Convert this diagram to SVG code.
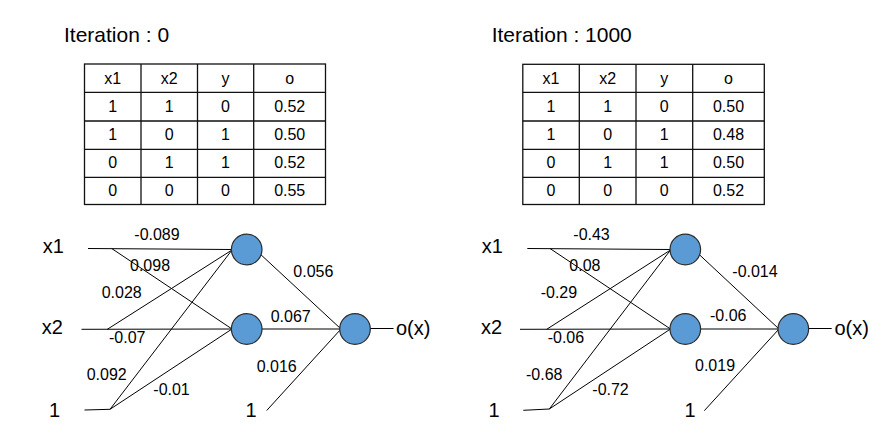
<svg xmlns="http://www.w3.org/2000/svg" width="894" height="439" viewBox="0 0 894 439">
<style>
text{font-family:"Liberation Sans",Arial,sans-serif;fill:#000}
.title{font-size:21px}
.cell{font-size:16px;text-anchor:middle}
.lbl{font-size:20px}
.w{font-size:16px}
.grid{fill:none;stroke:#111;stroke-width:1.3}
.edge{stroke:#000;stroke-width:1;fill:none}
.neuron{fill:#5B9BD5;stroke:#2b2b2b;stroke-width:1.2}
</style>
<rect width="894" height="439" fill="#fff"/>

<!-- Left panel -->
<g id="title-left"><text class="title" x="64" y="41.5">Iteration : 0</text></g>
<g id="table-left">
<rect class="grid" x="84.5" y="64" width="241" height="140.5"/>
<path class="grid" d="M141 64V204.5M197.5 64V204.5M253.7 64V204.5M84.5 92.3H325.5M84.5 121H325.5M84.5 149.3H325.5M84.5 177.3H325.5"/>
<text class="cell" x="112.7" y="84">x1</text><text class="cell" x="169.2" y="84">x2</text><text class="cell" x="225.5" y="84">y</text><text class="cell" x="289.7" y="84">o</text>
<text class="cell" x="112.7" y="111.7">1</text><text class="cell" x="169.2" y="111.7">1</text><text class="cell" x="225.5" y="111.7">0</text><text class="cell" x="289.7" y="111.7">0.52</text>
<text class="cell" x="112.7" y="140">1</text><text class="cell" x="169.2" y="140">0</text><text class="cell" x="225.5" y="140">1</text><text class="cell" x="289.7" y="140">0.50</text>
<text class="cell" x="112.7" y="168.3">0</text><text class="cell" x="169.2" y="168.3">1</text><text class="cell" x="225.5" y="168.3">1</text><text class="cell" x="289.7" y="168.3">0.52</text>
<text class="cell" x="112.7" y="196">0</text><text class="cell" x="169.2" y="196">0</text><text class="cell" x="225.5" y="196">0</text><text class="cell" x="289.7" y="196">0.55</text>
</g>

<g id="connectors-left">
<line class="edge" x1="88" y1="248.5" x2="232" y2="249.5"/>
<line class="edge" x1="111.7" y1="248.5" x2="232" y2="329"/>
<line class="edge" x1="81.5" y1="329.3" x2="232" y2="329"/>
<line class="edge" x1="107.3" y1="329.3" x2="232" y2="250"/>
<line class="edge" x1="84.5" y1="410" x2="110" y2="409.3"/>
<line class="edge" x1="110" y1="409.3" x2="232" y2="250"/>
<line class="edge" x1="110" y1="409.3" x2="232" y2="329"/>
<line class="edge" x1="258" y1="252" x2="341" y2="329"/>
<line class="edge" x1="262" y1="329" x2="341" y2="329"/>
<line class="edge" x1="266.7" y1="410.5" x2="341" y2="329"/>
<line class="edge" x1="369" y1="328.5" x2="393.5" y2="328.5"/>
<text class="w" x="134.3" y="240">-0.089</text>
<text class="w" x="130" y="271">0.098</text>
<text class="w" x="101.7" y="298.3">0.028</text>
<text class="w" x="109" y="343.3">-0.07</text>
<text class="w" x="86.7" y="380">0.092</text>
<text class="w" x="153.3" y="395">-0.01</text>
<text class="w" x="293.3" y="277.3">0.056</text>
<text class="w" x="270.7" y="321.7">0.067</text>
<text class="w" x="256.7" y="371.7">0.016</text>
</g>
<g id="in-x1-left"><text class="lbl" x="42.7" y="253.3">x1</text></g>
<g id="in-x2-left"><text class="lbl" x="41.7" y="333.5">x2</text></g>
<g id="in-bias-left"><text class="lbl" x="49" y="416.7">1</text></g>
<g id="h1-left"><circle class="neuron" cx="246.7" cy="249.5" r="15.3"/></g>
<g id="h2-left"><circle class="neuron" cx="246.7" cy="329" r="15.3"/></g>
<g id="out-left"><circle class="neuron" cx="355" cy="329" r="15.3"/></g>
<g id="out-bias-left"><text class="lbl" x="245.5" y="416.7">1</text></g>
<g id="ox-left"><text class="lbl" x="396" y="335">o(x)</text></g>

<!-- Right panel -->
<g id="title-right"><text class="title" x="491.7" y="41.5">Iteration : 1000</text></g>
<g id="table-right">
<rect class="grid" x="522.8" y="64.3" width="241.5" height="140.2"/>
<path class="grid" d="M579.3 64.3V204.5M636 64.3V204.5M692.7 64.3V204.5M522.8 92.3H764.3M522.8 121H764.3M522.8 149.3H764.3M522.8 177.3H764.3"/>
<text class="cell" x="551" y="84">x1</text><text class="cell" x="607.7" y="84">x2</text><text class="cell" x="664.3" y="84">y</text><text class="cell" x="728.5" y="84">o</text>
<text class="cell" x="551" y="111.7">1</text><text class="cell" x="607.7" y="111.7">1</text><text class="cell" x="664.3" y="111.7">0</text><text class="cell" x="728.5" y="111.7">0.50</text>
<text class="cell" x="551" y="140">1</text><text class="cell" x="607.7" y="140">0</text><text class="cell" x="664.3" y="140">1</text><text class="cell" x="728.5" y="140">0.48</text>
<text class="cell" x="551" y="168.3">0</text><text class="cell" x="607.7" y="168.3">1</text><text class="cell" x="664.3" y="168.3">1</text><text class="cell" x="728.5" y="168.3">0.50</text>
<text class="cell" x="551" y="196">0</text><text class="cell" x="607.7" y="196">0</text><text class="cell" x="664.3" y="196">0</text><text class="cell" x="728.5" y="196">0.52</text>
</g>

<g id="connectors-right">
<line class="edge" x1="527.3" y1="248.5" x2="670.5" y2="249.5"/>
<line class="edge" x1="550" y1="248.5" x2="670.5" y2="329"/>
<line class="edge" x1="520" y1="329.3" x2="670.5" y2="329"/>
<line class="edge" x1="546.7" y1="329.3" x2="670.5" y2="250"/>
<line class="edge" x1="523.3" y1="410.3" x2="549.3" y2="409"/>
<line class="edge" x1="549.3" y1="409" x2="670.5" y2="250"/>
<line class="edge" x1="549.3" y1="409" x2="670.5" y2="329"/>
<line class="edge" x1="696.5" y1="252" x2="779" y2="329"/>
<line class="edge" x1="700" y1="329" x2="779" y2="329"/>
<line class="edge" x1="704.3" y1="410.7" x2="779" y2="329"/>
<line class="edge" x1="807.5" y1="328.5" x2="831.7" y2="328.5"/>
<text class="w" x="573.3" y="240">-0.43</text>
<text class="w" x="569.3" y="271">0.08</text>
<text class="w" x="540.7" y="298">-0.29</text>
<text class="w" x="547.7" y="343.3">-0.06</text>
<text class="w" x="526" y="380">-0.68</text>
<text class="w" x="592.3" y="395">-0.72</text>
<text class="w" x="732.3" y="277">-0.014</text>
<text class="w" x="710" y="321">-0.06</text>
<text class="w" x="695" y="371">0.019</text>
</g>
<g id="in-x1-right"><text class="lbl" x="481.7" y="253.3">x1</text></g>
<g id="in-x2-right"><text class="lbl" x="481" y="333.5">x2</text></g>
<g id="in-bias-right"><text class="lbl" x="488.5" y="416.7">1</text></g>
<g id="h1-right"><circle class="neuron" cx="685.3" cy="249.5" r="15.3"/></g>
<g id="h2-right"><circle class="neuron" cx="685.3" cy="329" r="15.3"/></g>
<g id="out-right"><circle class="neuron" cx="793.3" cy="329" r="15.3"/></g>
<g id="out-bias-right"><text class="lbl" x="684.5" y="416.7">1</text></g>
<g id="ox-right"><text class="lbl" x="834.5" y="335">o(x)</text></g>
</svg>
